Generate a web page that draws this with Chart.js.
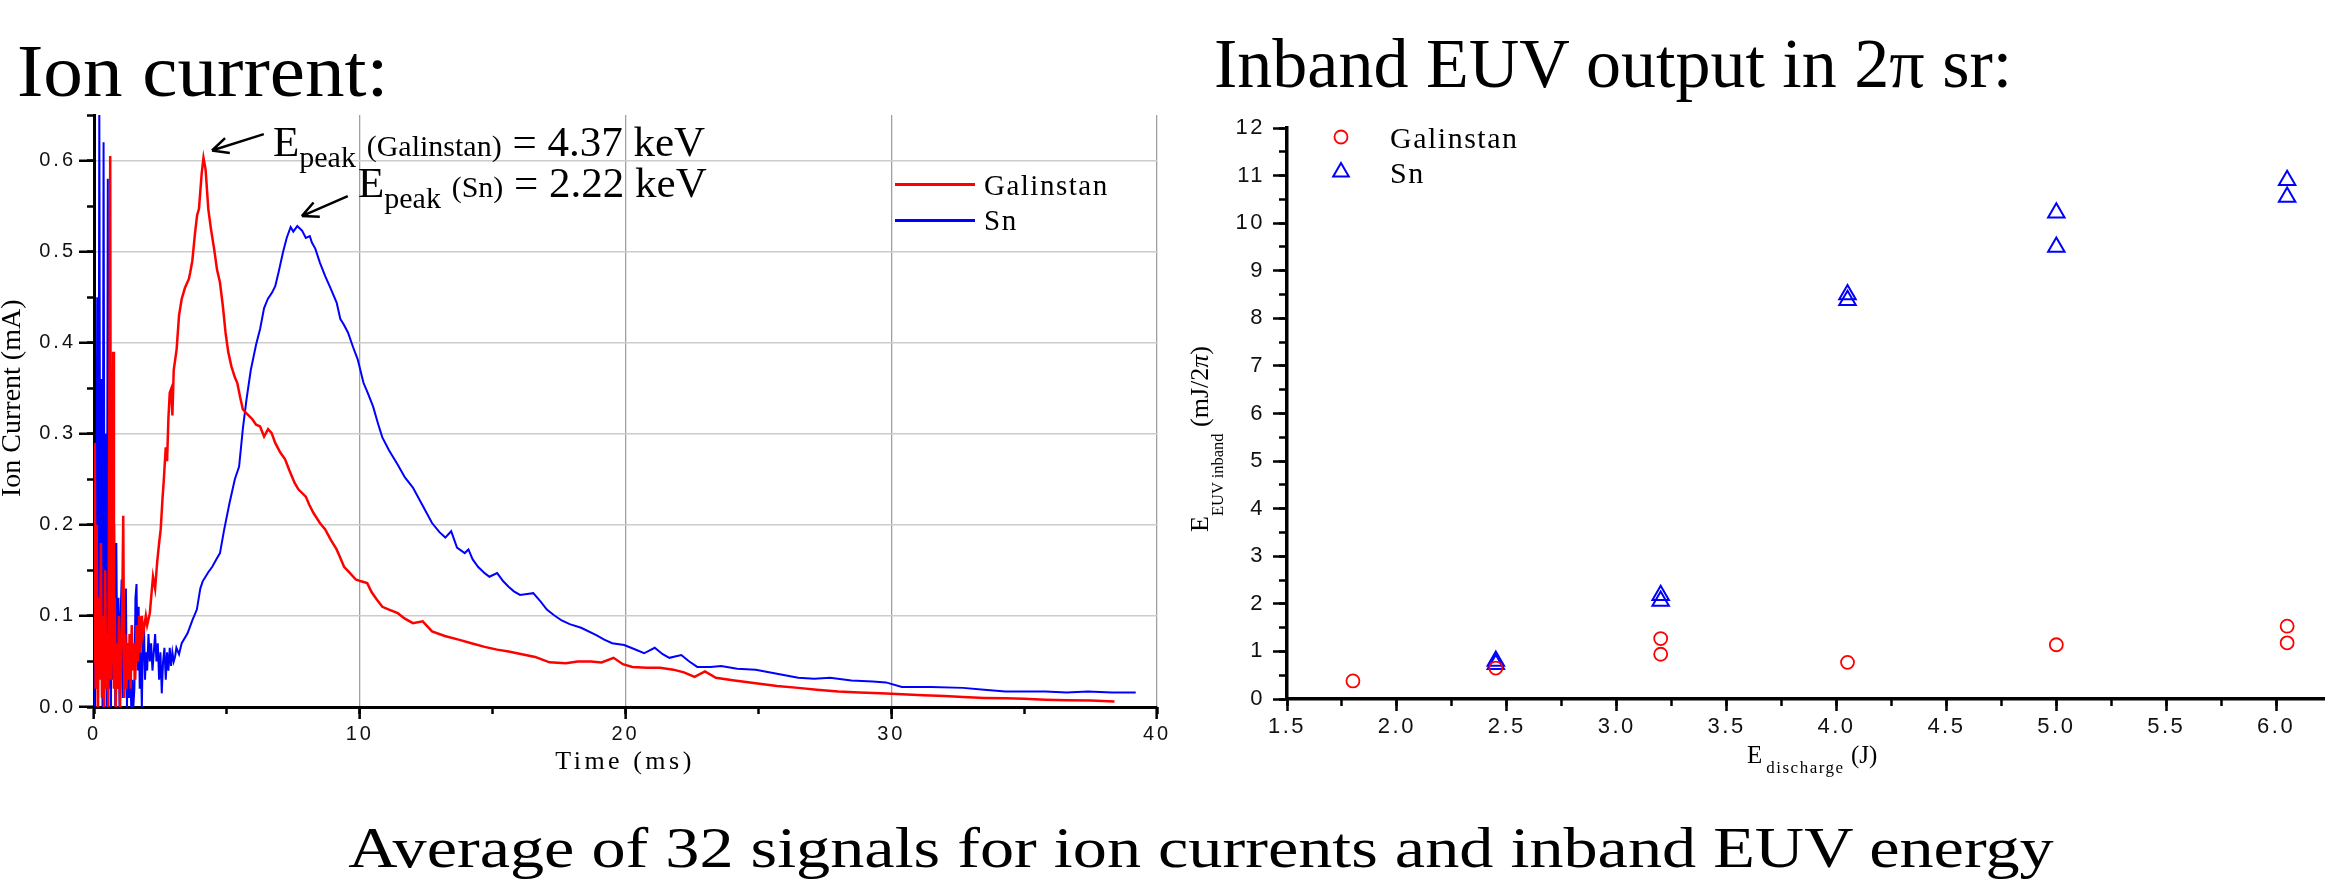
<!DOCTYPE html>
<html>
<head>
<meta charset="utf-8">
<script src="https://cdn.jsdelivr.net/npm/chart.js@4.4.0/dist/chart.umd.min.js"></script>
<style>
  html, body { margin: 0; padding: 0; background: #fff; }
  body { width: 2336px; height: 883px; position: relative; overflow: hidden;
         font-family: "Liberation Serif", "Times New Roman", serif; color: #000; }
  .abs { position: absolute; white-space: nowrap; }
  .sub { line-height: 0; }
  #ionWrap { position: absolute; left: 0; top: 0; width: 1180px; height: 800px; }
  #euvWrap { position: absolute; left: 1180px; top: 0; width: 1156px; height: 800px; }
</style>
</head>
<body>
<div id="ionWrap"><canvas id="ionChart"></canvas></div>
<div id="euvWrap"><canvas id="euvChart"></canvas></div>

<!-- headings -->
<div class="abs" style="left:17px; top:34px; font-size:74px; line-height:74px; transform-origin:0 0; transform:scaleX(1.07);">Ion current:</div>
<div class="abs" style="left:1214px; top:29px; font-size:70px; line-height:70px;">Inband EUV output in 2π sr:</div>
<div class="abs" style="left:1201px; top:819px; font-size:57px; line-height:57px; transform:translateX(-50%) scaleX(1.197);">Average of 32 signals for ion currents and inband EUV energy</div>

<!-- peak annotations -->
<div class="abs" style="left:273px; top:120px; font-size:43px; line-height:43px;">E<span class="sub" style="font-size:30px; vertical-align:-11px;">peak</span> <span style="font-size:30px;">(Galinstan)</span> = 4.37 keV</div>
<div class="abs" style="left:358px; top:161px; font-size:43px; line-height:43px;">E<span class="sub" style="font-size:30px; vertical-align:-11px;">peak</span> <span style="font-size:30px;">(Sn)</span> = 2.22 keV</div>

<!-- axis titles -->
<div class="abs" style="left:-3px; top:497px; font-size:28px; line-height:28px; transform-origin:0 0; transform:rotate(-90deg);">Ion Current (mA)</div>
<div class="abs" style="left:625px; top:748px; font-size:26px; line-height:26px; letter-spacing:3.5px; transform:translateX(-50%);">Time (ms)</div>
<div class="abs" style="left:1187px; top:532px; font-size:26px; line-height:26px; transform-origin:0 0; transform:rotate(-90deg);">E<span class="sub" style="font-size:16.5px; vertical-align:-15px;">EUV inband</span> (mJ/2<i>π</i>)</div>
<div class="abs" style="left:1747px; top:742px; font-size:25px; line-height:25px;">E<span class="sub" style="font-size:17px; letter-spacing:1.5px; vertical-align:-10px; margin-left:4px;">discharge</span> (J)</div>

<!-- legends -->
<div class="abs" style="left:895px; top:183px; width:80px; height:2.5px; background:#ff0000;"></div>
<div class="abs" style="left:984px; top:171px; font-size:29px; line-height:29px; letter-spacing:1.5px;">Galinstan</div>
<div class="abs" style="left:895px; top:219px; width:80px; height:2.5px; background:#0000ff;"></div>
<div class="abs" style="left:984px; top:206px; font-size:29px; line-height:29px; letter-spacing:1.5px;">Sn</div>

<svg class="abs" style="left:1325px; top:120px;" width="32" height="70">
  <circle cx="16" cy="17" r="6.5" fill="none" stroke="#ff0000" stroke-width="1.8"/>
  <polygon points="16,43 23.8,56.5 8.2,56.5" fill="none" stroke="#0000ff" stroke-width="2"/>
</svg>
<div class="abs" style="left:1390px; top:123px; font-size:30px; line-height:30px; letter-spacing:1.5px;">Galinstan</div>
<div class="abs" style="left:1390px; top:158px; font-size:30px; line-height:30px; letter-spacing:1.5px;">Sn</div>

<script>
// Ion current traces, [time (ms), current (mA)]
const galinstanTrace = [
  [0,0.05],[0.03,0.29],[0.06,0.02],[0.1,0.2],[0.14,0.0],[0.18,0.12],[0.22,0.03],[0.26,0.18],
  [0.3,0.01],[0.34,0.1],[0.38,0.0],[0.42,0.15],[0.46,0.02],[0.5,0.08],[0.54,0.0],[0.58,0.35],
  [0.61,0.605],[0.64,0.03],[0.68,0.1],[0.72,0.39],[0.75,0.02],[0.78,0.12],[0.82,0.0],[0.86,0.07],
  [0.9,0.02],[0.94,0.1],[0.98,0.0],[1.02,0.05],[1.06,0.1],[1.1,0.21],[1.14,0.01],[1.18,0.08],
  [1.22,0.02],[1.26,0.07],[1.3,0.03],[1.34,0.08],[1.38,0.02],[1.42,0.09],[1.46,0.04],[1.5,0.07],
  [1.55,0.03],[1.6,0.09],[1.65,0.05],[1.7,0.1],[1.75,0.06],[1.8,0.1],[1.85,0.08],[1.9,0.09],
  [1.95,0.1],[2.0,0.09],[2.1,0.103],[2.22,0.143],[2.3,0.13],[2.38,0.16],[2.45,0.18],[2.51,0.195],
  [2.58,0.23],[2.62,0.246],[2.7,0.285],[2.75,0.27],[2.8,0.317],[2.85,0.345],[2.9,0.349],[2.95,0.32],
  [3.0,0.37],[3.11,0.393],[3.2,0.43],[3.3,0.448],[3.42,0.46],[3.57,0.47],[3.62,0.477],[3.7,0.49],
  [3.8,0.52],[3.88,0.54],[3.95,0.547],[4.05,0.585],[4.12,0.603],[4.2,0.59],[4.3,0.547],[4.4,0.525],
  [4.52,0.503],[4.63,0.48],[4.74,0.466],[4.85,0.44],[4.95,0.411],[5.05,0.39],[5.17,0.374],[5.3,0.362],
  [5.39,0.356],[5.5,0.34],[5.6,0.327],[5.75,0.322],[5.96,0.316],[6.1,0.31],[6.25,0.308],[6.4,0.297],
  [6.55,0.305],[6.68,0.301],[6.82,0.29],[7.0,0.28],[7.19,0.272],[7.35,0.26],[7.55,0.246],[7.69,0.239],
  [7.97,0.231],[8.1,0.222],[8.26,0.213],[8.5,0.202],[8.7,0.195],[8.9,0.184],[9.13,0.173],[9.25,0.165],
  [9.41,0.154],[9.6,0.148],[9.85,0.14],[10.05,0.138],[10.28,0.136],[10.45,0.126],[10.64,0.118],[10.85,0.11],
  [11.1,0.107],[11.43,0.103],[11.7,0.097],[12.0,0.092],[12.37,0.094],[12.72,0.083],[13.2,0.078],[13.72,0.074],
  [14.2,0.07],[14.7,0.066],[15.17,0.063],[15.6,0.061],[16.1,0.058],[16.6,0.055],[17.14,0.049],[17.76,0.048],
  [18.2,0.05],[18.7,0.05],[19.1,0.049],[19.55,0.054],[19.9,0.047],[20.26,0.044],[20.8,0.043],[21.3,0.043],
  [21.8,0.041],[22.2,0.038],[22.6,0.033],[22.99,0.039],[23.4,0.032],[24.1,0.029],[24.9,0.026],[25.7,0.023],
  [26.5,0.021],[27.2,0.019],[28.0,0.017],[28.8,0.016],[29.6,0.015],[30.4,0.014],[31.2,0.013],[32.0,0.012],
  [32.7,0.011],[33.5,0.01],[34.3,0.0095],[35.0,0.009],[35.8,0.008],[36.6,0.0075],[37.5,0.007],[38.4,0.006]
];

const snTrace = [
  [0,0.0],[0.04,0.27],[0.08,0.02],[0.12,0.45],[0.16,0.0],[0.2,0.66],[0.24,0.05],[0.28,0.36],
  [0.32,0.0],[0.36,0.62],[0.4,0.04],[0.44,0.3],[0.48,0.0],[0.52,0.58],[0.56,0.02],[0.6,0.26],
  [0.64,0.0],[0.68,0.35],[0.72,0.03],[0.76,0.2],[0.8,0.0],[0.84,0.18],[0.88,0.02],[0.92,0.12],
  [0.96,0.0],[1.0,0.1],[1.04,0.14],[1.08,0.01],[1.12,0.09],[1.16,0.02],[1.2,0.13],[1.24,0.0],
  [1.28,0.07],[1.32,0.01],[1.36,0.05],[1.4,0.0],[1.44,0.03],[1.48,0.0],[1.52,0.02],[1.56,0.12],
  [1.6,0.135],[1.64,0.04],[1.68,0.11],[1.72,0.02],[1.76,0.06],[1.8,0.0],[1.84,0.07],[1.88,0.09],
  [1.92,0.03],[1.96,0.06],[2.0,0.04],[2.05,0.08],[2.1,0.05],[2.15,0.07],[2.2,0.04],[2.25,0.06],
  [2.3,0.08],[2.35,0.05],[2.4,0.07],[2.45,0.03],[2.5,0.06],[2.55,0.015],[2.6,0.05],[2.65,0.065],
  [2.7,0.03],[2.75,0.06],[2.8,0.04],[2.85,0.065],[2.9,0.045],[2.95,0.06],[3.0,0.05],[3.05,0.055],
  [3.1,0.065],[3.2,0.058],[3.3,0.07],[3.52,0.081],[3.7,0.095],[3.87,0.107],[4.0,0.13],[4.09,0.138],
  [4.3,0.148],[4.45,0.154],[4.6,0.162],[4.74,0.169],[4.9,0.195],[5.1,0.224],[5.3,0.25],[5.46,0.264],
  [5.6,0.305],[5.74,0.338],[5.9,0.37],[6.1,0.398],[6.25,0.415],[6.4,0.438],[6.54,0.448],[6.7,0.455],
  [6.82,0.462],[6.95,0.478],[7.11,0.499],[7.25,0.515],[7.4,0.527],[7.5,0.522],[7.65,0.528],[7.83,0.523],
  [7.97,0.515],[8.12,0.517],[8.2,0.51],[8.33,0.503],[8.5,0.488],[8.7,0.473],[8.9,0.46],[9.13,0.444],
  [9.27,0.426],[9.4,0.42],[9.56,0.411],[9.75,0.395],[9.92,0.382],[10.14,0.356],[10.3,0.345],[10.5,0.33],
  [10.7,0.31],[10.85,0.296],[11.1,0.282],[11.43,0.266],[11.7,0.252],[12.0,0.241],[12.35,0.222],[12.72,0.202],
  [13.0,0.192],[13.22,0.186],[13.44,0.193],[13.66,0.175],[13.95,0.169],[14.09,0.173],[14.25,0.162],[14.45,0.154],
  [14.7,0.147],[14.88,0.143],[15.17,0.147],[15.4,0.138],[15.6,0.132],[15.8,0.127],[16.03,0.123],[16.3,0.124],
  [16.53,0.125],[16.8,0.116],[17.04,0.107],[17.3,0.101],[17.6,0.095],[17.9,0.091],[18.33,0.087],[18.9,0.079],
  [19.2,0.074],[19.5,0.07],[19.95,0.068],[20.3,0.064],[20.7,0.059],[21.1,0.065],[21.4,0.058],[21.65,0.054],
  [22.1,0.057],[22.4,0.05],[22.7,0.044],[23.2,0.044],[23.6,0.045],[24.2,0.042],[24.9,0.041],[25.6,0.037],
  [26.5,0.032],[27.1,0.031],[27.7,0.032],[28.5,0.029],[29.3,0.028],[29.8,0.027],[30.4,0.022],[31.5,0.022],
  [32.7,0.021],[33.5,0.019],[34.3,0.017],[35.8,0.017],[36.6,0.016],[37.4,0.017],[38.3,0.016],[39.2,0.016]
];

// Inband EUV energy vs discharge energy
const dischargeGal = [1.8, 2.45, 3.2, 3.2, 4.05, 5.0, 6.05, 6.05];
const euvGal       = [0.38, 0.65, 1.27, 0.94, 0.77, 1.14, 1.53, 1.18];
const dischargeSn  = [2.45, 2.45, 3.2, 3.2, 4.05, 4.05, 5.0, 5.0, 6.05, 6.05];
const euvSn        = [0.8, 0.73, 2.18, 2.06, 8.5, 8.38, 10.22, 9.5, 10.9, 10.55];

// arrows pointing at the peaks (data units)
const peakArrows = [
  { tip: [4.44, 0.611], tail: [6.39, 0.629] },
  { tip: [7.82, 0.539], tail: [9.55, 0.561] }
];

const RED = "#ff0000";
const BLUE = "#0000ff";
const FONT = '"Liberation Sans", Arial, sans-serif';

function setWidth(w) { return s => { s.width = w; }; }
function setHeight(h) { return s => { s.height = h; }; }

// spaced-out tick labels like the original
function spacing(px) {
  return { id: "spacing", beforeDraw(chart) { chart.ctx.letterSpacing = px; } };
}

const arrowPlugin = {
  id: "arrows",
  afterDatasetsDraw(chart) {
    const { ctx, scales: { x, y } } = chart;
    ctx.save();
    ctx.strokeStyle = "#000";
    ctx.lineWidth = 2.5;
    peakArrows.forEach(a => {
      const x1 = x.getPixelForValue(a.tail[0]), y1 = y.getPixelForValue(a.tail[1]);
      const x2 = x.getPixelForValue(a.tip[0]),  y2 = y.getPixelForValue(a.tip[1]);
      const ang = Math.atan2(y2 - y1, x2 - x1);
      ctx.beginPath();
      ctx.moveTo(x1, y1);
      ctx.lineTo(x2, y2);
      [0.45, -0.45].forEach(d => {
        ctx.moveTo(x2, y2);
        ctx.lineTo(x2 - 18 * Math.cos(ang + d), y2 - 18 * Math.sin(ang + d));
      });
      ctx.stroke();
    });
    ctx.restore();
  }
};

function minorAxis(pos, min, max, step, len) {
  const ax = {
    type: "linear", position: pos, min, max, weight: -1,
    ticks: { display: false, stepSize: step, includeBounds: false },
    grid: { drawOnChartArea: false, tickLength: len, tickColor: "#000", tickWidth: 2.5 },
    border: { display: false }
  };
  ax.afterFit = pos === "bottom" ? setHeight(0) : setWidth(0);
  return ax;
}

// Ion current chart
new Chart(document.getElementById("ionChart"), {
  type: "scatter",
  data: {
    datasets: [
      { label: "Galinstan", data: galinstanTrace.map(p => ({ x: p[0], y: p[1] })),
        showLine: true, borderColor: RED, borderWidth: 2.5, pointRadius: 0, tension: 0 },
      { label: "Sn", data: snTrace.map(p => ({ x: p[0], y: p[1] })),
        showLine: true, borderColor: BLUE, borderWidth: 2, pointRadius: 0, tension: 0 }
    ]
  },
  options: {
    responsive: true, maintainAspectRatio: false, animation: false,
    layout: { padding: { left: 0, top: 115, right: 23, bottom: 0 } },
    plugins: { legend: { display: false }, tooltip: { enabled: false } },
    scales: {
      x: {
        type: "linear", position: "bottom", min: 0, max: 40, weight: 0,
        ticks: { stepSize: 10, font: { family: FONT, size: 20 }, color: "#111", padding: 3, maxRotation: 0 },
        grid: { color: c => c.tick && c.tick.value === 0 ? "rgba(0,0,0,0)" : "#a0a0a0",
                lineWidth: 1.3, tickLength: 12, tickColor: "#000", tickWidth: 2.5 },
        border: { color: "#000", width: 3 },
        afterFit: setHeight(93)
      },
      xMinor: minorAxis("bottom", 0, 40, 5, 7),
      y: {
        type: "linear", position: "left", min: 0, max: 0.65, weight: 0,
        ticks: { stepSize: 0.1, includeBounds: false, font: { family: FONT, size: 20 }, color: "#111",
                 padding: 3, callback: v => v.toFixed(1) },
        grid: { color: c => c.tick && c.tick.value === 0 ? "rgba(0,0,0,0)" : "#cccccc",
                lineWidth: 1.5, tickLength: 15, tickColor: "#000", tickWidth: 2.5 },
        border: { color: "#000", width: 3 },
        afterFit: setWidth(94)
      },
      yMinor: minorAxis("left", 0, 0.65, 0.05, 7)
    }
  },
  plugins: [spacing("3px"), arrowPlugin]
});

// Inband EUV chart
new Chart(document.getElementById("euvChart"), {
  type: "scatter",
  data: {
    datasets: [
      { label: "Galinstan", data: dischargeGal.map((e, i) => ({ x: e, y: euvGal[i] })),
        pointStyle: "circle", pointRadius: 6.5, borderColor: RED, backgroundColor: "rgba(0,0,0,0)",
        borderWidth: 1.8 },
      { label: "Sn", data: dischargeSn.map((e, i) => ({ x: e, y: euvSn[i] })),
        pointStyle: "triangle", pointRadius: 9.5, borderColor: BLUE, backgroundColor: "rgba(0,0,0,0)",
        borderWidth: 2 }
    ]
  },
  options: {
    responsive: true, maintainAspectRatio: false, animation: false,
    layout: { padding: { left: 0, top: 128, right: 0, bottom: 0 } },
    plugins: { legend: { display: false }, tooltip: { enabled: false } },
    scales: {
      x: {
        type: "linear", position: "bottom", min: 1.5, max: 6.22, weight: 0,
        ticks: { stepSize: 0.5, includeBounds: false, font: { family: FONT, size: 22 }, color: "#111",
                 padding: 3, maxRotation: 0, callback: v => v.toFixed(1) },
        grid: { drawOnChartArea: false, tickLength: 12, tickColor: "#000", tickWidth: 2.5 },
        border: { color: "#000", width: 3.5 },
        afterFit: setHeight(101)
      },
      xMinor: minorAxis("bottom", 1.5, 6.22, 0.25, 7),
      y: {
        type: "linear", position: "left", min: 0, max: 12, weight: 0,
        ticks: { stepSize: 1, font: { family: FONT, size: 22 }, color: "#111", padding: 8 },
        grid: { drawOnChartArea: false, tickLength: 14, tickColor: "#000", tickWidth: 2.5 },
        border: { color: "#000", width: 3.5 },
        afterFit: setWidth(107)
      },
      yMinor: minorAxis("left", 0, 12, 0.5, 8)
    }
  },
  plugins: [spacing("2.5px")]
});
</script>
</body>
</html>
